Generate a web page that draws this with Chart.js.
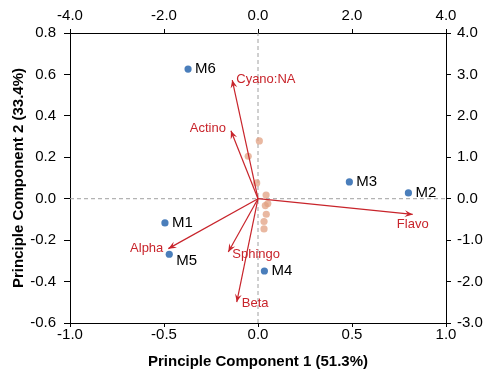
<!DOCTYPE html>
<html>
<head>
<meta charset="utf-8">
<script src="https://cdn.jsdelivr.net/npm/chart.js@4"></script>
<style>
  body { margin: 0; background: #fff; }
  #wrap { width: 485px; height: 374px; position: relative; }
</style>
</head>
<body>
<div id="wrap"><canvas id="myChart"></canvas></div>
<script>
// sample scores (PC1, PC2)
var samples = ['M1', 'M2', 'M3', 'M4', 'M5', 'M6'];
var samplePC1 = [-0.495, 0.80, 0.486, 0.034, -0.472, -0.372];
var samplePC2 = [-0.117, 0.028, 0.081, -0.349, -0.268, 0.626];

// variable loadings (arrows)
var variables = ['Cyano:NA', 'Actino', 'Alpha', 'Sphingo', 'Beta', 'Flavo'];
var loadPC1 = [-0.137, -0.144, -0.477, -0.158, -0.113, 0.823];
var loadPC2 = [0.573, 0.328, -0.241, -0.257, -0.499, -0.076];

// minor variables near the origin
var otherPC1 = [0.007, -0.052, -0.007, 0.043, 0.052, 0.039, 0.044, 0.032, 0.032];
var otherPC2 = [0.279, 0.205, 0.076, 0.018, -0.023, -0.033, -0.075, -0.110, -0.146];

var xRange = [-1.0, 1.0];
var yRange = [-0.6, 0.8];
var x2Range = [-4.0, 4.0];
var y2Range = [-3.0, 4.0];

var red = '#C8242B';
var blue = '#4A7EBB';

// label placement for arrows: [dx, dy, align]
var arrowLabelPos = [
  [4, -1, 'left'],
  [-5, -2, 'right'],
  [-5, 0, 'right'],
  [4, 2, 'left'],
  [5, 1, 'left'],
  [0, 10, 'center']
];
var sampleLabelDy = [0, 0, 0, 0, 7, 0];

var datasets = [];

datasets.push({
  label: 'samples',
  data: samples.map(function (s, i) { return { x: samplePC1[i], y: samplePC2[i] }; }),
  backgroundColor: blue,
  borderColor: blue,
  pointRadius: 3.6,
  borderWidth: 0
});

variables.forEach(function (v, i) {
  datasets.push({
    label: v,
    isArrow: true,
    data: [{ x: 0, y: 0 }, { x: loadPC1[i], y: loadPC2[i] }],
    showLine: true,
    borderColor: red,
    borderWidth: 1.2,
    pointRadius: 0
  });
});

datasets.push({
  label: 'others',
  data: otherPC1.map(function (x, i) { return { x: x, y: otherPC2[i] }; }),
  backgroundColor: 'rgba(226,160,130,0.75)',
  borderWidth: 0,
  pointRadius: 3.6
});

// dashed zero lines
datasets.push({
  label: 'zeroX',
  data: [{ x: xRange[0], y: 0 }, { x: xRange[1], y: 0 }],
  showLine: true, borderColor: '#a0a0a0', borderWidth: 1, borderDash: [4, 3], pointRadius: 0
});
datasets.push({
  label: 'zeroY',
  data: [{ x: 0, y: yRange[0] }, { x: 0, y: yRange[1] }],
  showLine: true, borderColor: '#a0a0a0', borderWidth: 1, borderDash: [4, 3], pointRadius: 0
});

var labelPlugin = {
  id: 'biplotLabels',
  afterDatasetsDraw: function (chart) {
    var ctx = chart.ctx;
    ctx.save();
    chart.data.datasets.forEach(function (ds, di) {
      if (!ds.isArrow) return;
      var meta = chart.getDatasetMeta(di);
      var p0 = meta.data[0], p1 = meta.data[1];
      var ang = Math.atan2(p1.y - p0.y, p1.x - p0.x);
      var len = 8, half = 3.4;
      ctx.fillStyle = red;
      ctx.beginPath();
      ctx.moveTo(p1.x, p1.y);
      ctx.lineTo(p1.x - len * Math.cos(ang) + half * Math.sin(ang), p1.y - len * Math.sin(ang) - half * Math.cos(ang));
      ctx.lineTo(p1.x - 5 * Math.cos(ang), p1.y - 5 * Math.sin(ang));
      ctx.lineTo(p1.x - len * Math.cos(ang) - half * Math.sin(ang), p1.y - len * Math.sin(ang) + half * Math.cos(ang));
      ctx.closePath();
      ctx.fill();
    });

    var xs = chart.scales.x, ys = chart.scales.y;
    // arrow names
    ctx.font = '13px "Liberation Sans", Arial, sans-serif';
    ctx.fillStyle = red;
    ctx.textBaseline = 'middle';
    variables.forEach(function (v, i) {
      var pos = arrowLabelPos[i];
      ctx.textAlign = pos[2];
      ctx.fillText(v, xs.getPixelForValue(loadPC1[i]) + pos[0], ys.getPixelForValue(loadPC2[i]) + pos[1]);
    });
    // sample names
    ctx.font = '15px "Liberation Sans", Arial, sans-serif';
    ctx.fillStyle = '#000';
    ctx.textAlign = 'left';
    samples.forEach(function (s, i) {
      ctx.fillText(s, xs.getPixelForValue(samplePC1[i]) + 7, ys.getPixelForValue(samplePC2[i]) + sampleLabelDy[i]);
    });
    ctx.restore();
  }
};

function fmt(v) {
  if (Math.abs(v) < 1e-9) v = 0;
  return v.toFixed(1);
}

var tickFont = { family: '"Liberation Sans", Arial, sans-serif', size: 15 };
var titleFont = { family: '"Liberation Sans", Arial, sans-serif', size: 15, weight: 'bold' };

function axisOpts(extra) {
  var base = {
    type: 'linear',
    border: { display: true, color: '#000', width: 1 },
    grid: { drawOnChartArea: false, drawTicks: true, tickLength: 5, color: '#000' },
    ticks: { font: tickFont, color: '#000', callback: fmt, maxRotation: 0, autoSkip: false }
  };
  for (var k in extra) {
    if (typeof extra[k] === 'object' && base[k]) {
      for (var j in extra[k]) base[k][j] = extra[k][j];
    } else {
      base[k] = extra[k];
    }
  }
  return base;
}

new Chart('myChart', {
  type: 'scatter',
  data: { datasets: datasets },
  plugins: [labelPlugin],
  options: {
    responsive: true,
    maintainAspectRatio: false,
    animation: false,
    layout: { padding: 0 },
    plugins: { legend: { display: false }, tooltip: { enabled: false } },
    scales: {
      x: axisOpts({
        position: 'bottom', min: xRange[0], max: xRange[1],
        grid: { tickLength: 4 },
        ticks: { stepSize: 0.5, padding: -1 },
        title: { display: true, text: 'Principle Component 1 (51.3%)', font: titleFont, color: '#000', padding: { top: 0, bottom: 3 } },
        afterFit: function (s) { s.height = 51; }
      }),
      x2: axisOpts({
        axis: 'x', position: 'top', min: x2Range[0], max: x2Range[1],
        grid: { tickLength: 4 },
        ticks: { stepSize: 2, padding: 4 },
        afterFit: function (s) { s.height = 33; }
      }),
      y: axisOpts({
        position: 'left', min: yRange[0], max: yRange[1],
        grid: { tickLength: 6 },
        ticks: { stepSize: 0.2, padding: 8 },
        title: { display: true, text: 'Principle Component 2 (33.4%)', font: titleFont, color: '#000', padding: { top: 10, bottom: 0 } },
        afterFit: function (s) { s.width = 70; }
      }),
      y2: axisOpts({
        axis: 'y', position: 'right', min: y2Range[0], max: y2Range[1],
        ticks: { stepSize: 1, padding: 6 },
        afterFit: function (s) { s.width = 39; }
      })
    }
  }
});
</script>
</body>
</html>
